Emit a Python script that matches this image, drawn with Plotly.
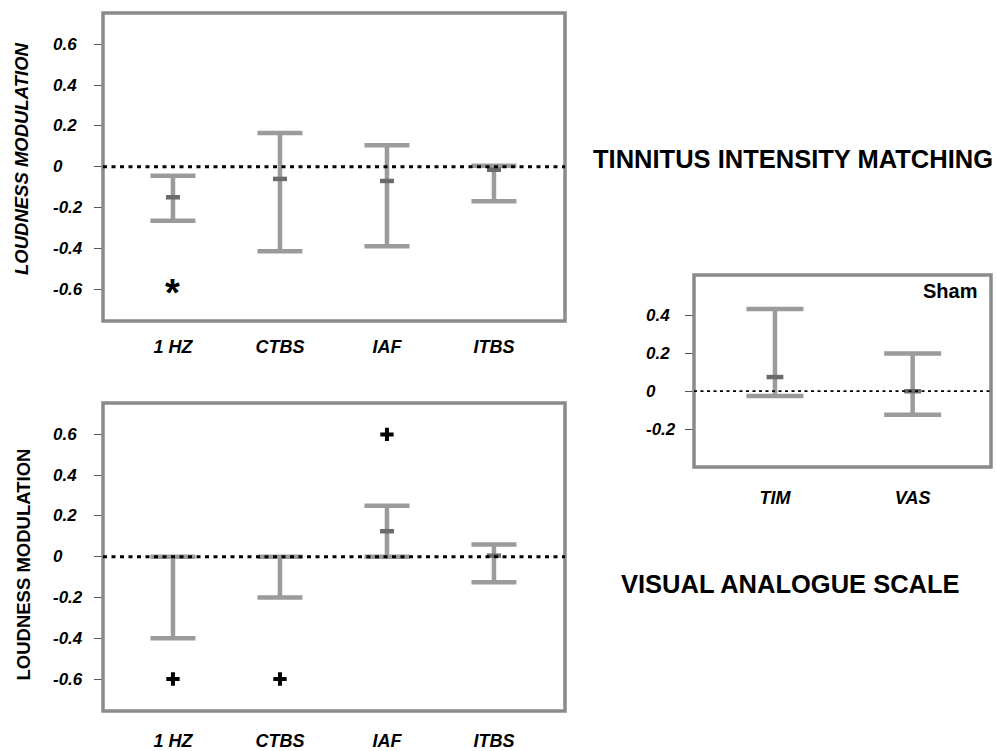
import plotly.graph_objects as go

# ---- data -------------------------------------------------------------
protocols = ["1 HZ", "CTBS", "IAF", "ITBS"]

# Tinnitus intensity matching (loudness modulation)
tim_upper = [-0.045, 0.165, 0.105, 0.005]
tim_median = [-0.15, -0.06, -0.07, -0.015]
tim_lower = [-0.265, -0.415, -0.39, -0.17]
tim_sig_y = [-0.6, None, None, None]

# Visual analogue scale
vas_upper = [0.0, 0.0, 0.25, 0.06]
vas_median = [None, None, 0.125, 0.005]
vas_lower = [-0.4, -0.2, 0.0, -0.125]
vas_sig_y = [-0.6, -0.6, 0.6, None]

# Sham condition
sham_measures = ["TIM", "VAS"]
sham_upper = [0.435, 0.2]
sham_median = [0.075, 0.0]
sham_lower = [-0.025, -0.125]

left_ticks = [0.6, 0.4, 0.2, 0, -0.2, -0.4, -0.6]
sham_ticks = [0.4, 0.2, 0, -0.2]

# ---- styling ----------------------------------------------------------
W, H = 996, 751
FONT = "Liberation Sans, Arial, Helvetica, sans-serif"
BAR = "#9b9b9b"
MED = "#6b6b6b"
FRAME = "#8a8a8a"


def px_x(p):
    return p / W


def px_y(p):
    return 1 - p / H


fig = go.Figure()
ann = []


def add_panel(ax, cats, upper, median, lower, cap_half, med_size, sig=None, sig_kind=None):
    xa = "x" if ax == 1 else f"x{ax}"
    ya = "y" if ax == 1 else f"y{ax}"
    # interquartile range whiskers hanging from the upper value
    fig.add_trace(go.Scatter(
        x=cats, y=upper, mode="markers", xaxis=xa, yaxis=ya,
        marker=dict(size=1, color="rgba(0,0,0,0)"),
        error_y=dict(type="data", symmetric=False,
                     array=[0] * len(cats),
                     arrayminus=[u - l for u, l in zip(upper, lower)],
                     thickness=4.5, width=cap_half, color=BAR),
        showlegend=False, hoverinfo="skip"))
    # central value
    fig.add_trace(go.Scatter(
        x=cats, y=median, mode="markers", xaxis=xa, yaxis=ya,
        marker=dict(symbol="line-ew", size=med_size,
                    line=dict(width=4.5, color=MED)),
        showlegend=False, hoverinfo="skip"))
    if sig is None:
        return
    if sig_kind == "star":
        for c, v in zip(cats, sig):
            if v is not None:
                ann.append(dict(text="<b>*</b>", xref=xa, yref=ya, x=c, y=v,
                                xanchor="center", yanchor="middle", yshift=-4,
                                showarrow=False,
                                font=dict(family=FONT, size=38, color="black")))
    else:
        fig.add_trace(go.Scatter(
            x=cats, y=sig, mode="markers", xaxis=xa, yaxis=ya,
            marker=dict(symbol="cross-thin", size=9.5,
                        line=dict(width=4, color="black")),
            showlegend=False, hoverinfo="skip"))


add_panel(1, protocols, tim_upper, tim_median, tim_lower, 22.5, 10, tim_sig_y, "star")
add_panel(2, protocols, vas_upper, vas_median, vas_lower, 22.5, 10, vas_sig_y, "plus")
add_panel(3, sham_measures, sham_upper, sham_median, sham_lower, 28.5, 12)

# panel boxes in pixels: left, right, top, bottom
top_box = (103, 565, 13, 321)
bot_box = (103, 565, 403, 711)
sham_box = (694, 991, 275, 467)


def xdom(b):
    return [px_x(b[0]), px_x(b[1])]


def ydom(b):
    return [px_y(b[3]), px_y(b[2])]


cat_font = dict(family=FONT, size=18, color="black", weight="bold", style="italic")


def xaxis(box, cats, rng, anchor, standoff):
    return dict(domain=xdom(box), anchor=anchor, type="category",
                categoryorder="array", categoryarray=cats, range=rng,
                showgrid=False, zeroline=False, showline=False, ticks="",
                tickfont=cat_font, ticklabelstandoff=standoff, fixedrange=True)


def yaxis(box, rng, anchor, tickvals):
    return dict(domain=ydom(box), anchor=anchor, range=rng,
                showgrid=False, zeroline=False, showline=False,
                ticks="outside", ticklen=8, tickwidth=1, tickcolor="#555555",
                tickvals=tickvals, showticklabels=False, fixedrange=True)


fig.update_layout(
    width=W, height=H,
    margin=dict(l=0, r=0, t=0, b=0),
    paper_bgcolor="white", plot_bgcolor="white",
    showlegend=False,
    xaxis=xaxis(top_box, protocols, [-0.654, 3.664], "y", 13),
    yaxis=yaxis(top_box, [-0.757, 0.754], "x", left_ticks),
    xaxis2=xaxis(bot_box, protocols, [-0.654, 3.664], "y2", 17),
    yaxis2=yaxis(bot_box, [-0.757, 0.754], "x2", left_ticks),
    xaxis3=xaxis(sham_box, sham_measures, [-0.588, 1.569], "y3", 18),
    yaxis3=yaxis(sham_box, [-0.401, 0.615], "x3", sham_ticks),
)

shapes = []
for ax, dash, lw in [("", "4px,4.5px", 3), ("2", "4px,4.5px", 3), ("3", "3px,3.5px", 1.8)]:
    shapes.append(dict(type="rect", xref=f"x{ax} domain", yref=f"y{ax} domain",
                       x0=0, x1=1, y0=0, y1=1, line=dict(color=FRAME, width=3.5),
                       layer="above"))
    shapes.append(dict(type="line", xref=f"x{ax} domain", yref=f"y{ax}",
                       x0=0, x1=1, y0=0, y1=0,
                       line=dict(color="black", width=lw, dash=dash), layer="above"))
fig.update_layout(shapes=shapes)

tick_font = dict(family=FONT, size=17, color="black")
for yref, xpos, vals in [("y", 51, left_ticks), ("y2", 51, left_ticks), ("y3", 644, sham_ticks)]:
    for v in vals:
        ann.append(dict(text=f"<b><i>{v:g}</i></b>", xref="paper", x=px_x(xpos),
                        xanchor="left", yref=yref, y=v, yanchor="middle",
                        showarrow=False, font=tick_font))

ann.append(dict(text="<b><i>LOUDNESS MODULATION</i></b>", textangle=-90,
                xref="paper", yref="paper", x=px_x(21), y=px_y(159),
                xanchor="center", yanchor="middle", showarrow=False,
                font=dict(family=FONT, size=18.5, color="black")))
ann.append(dict(text="<b>LOUDNESS MODULATION</b>", textangle=-90,
                xref="paper", yref="paper", x=px_x(22.5), y=px_y(565),
                xanchor="center", yanchor="middle", showarrow=False,
                font=dict(family=FONT, size=18.5, color="black")))
ann.append(dict(text="<b>TINNITUS INTENSITY MATCHING</b>",
                xref="paper", yref="paper", x=px_x(792.5), y=px_y(159),
                xanchor="center", yanchor="middle", showarrow=False,
                font=dict(family=FONT, size=25.5, color="black")))
ann.append(dict(text="<b>VISUAL ANALOGUE SCALE</b>",
                xref="paper", yref="paper", x=px_x(790), y=px_y(584),
                xanchor="center", yanchor="middle", showarrow=False,
                font=dict(family=FONT, size=25.5, color="black")))
ann.append(dict(text="<b>Sham</b>",
                xref="paper", yref="paper", x=px_x(979), y=px_y(278),
                xanchor="right", yanchor="top", showarrow=False,
                font=dict(family=FONT, size=20, color="black")))
fig.update_layout(annotations=ann)

fig.write_html("out.html")
